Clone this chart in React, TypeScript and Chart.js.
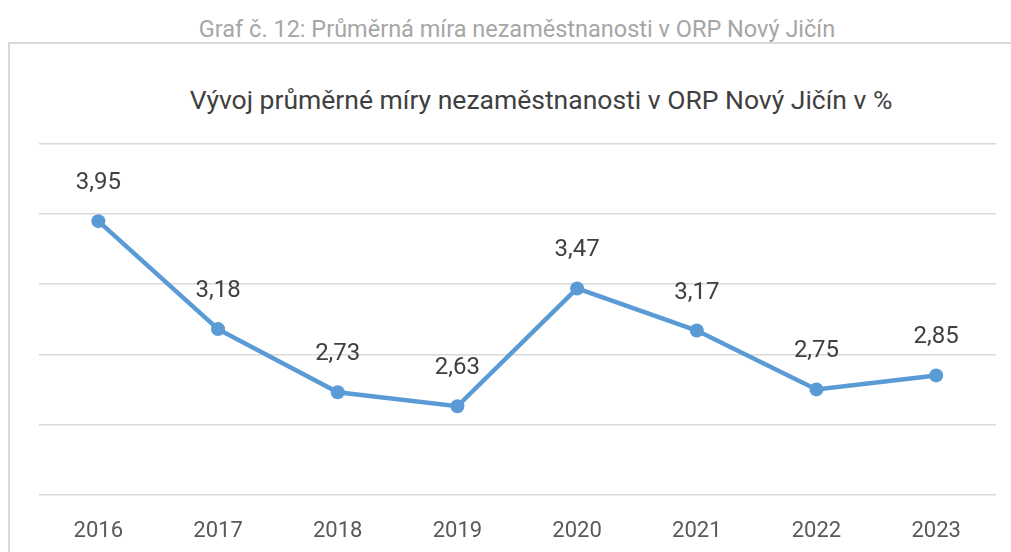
import React, { useEffect, useRef } from "react";
import { Chart, registerables } from "chart.js";

Chart.register(...registerables);

const caption = "Graf č. 12: Průměrná míra nezaměstnanosti v ORP Nový Jičín";
const chartTitle = "Vývoj průměrné míry nezaměstnanosti v ORP Nový Jičín v %";
const years = ["2016", "2017", "2018", "2019", "2020", "2021", "2022", "2023"];
const rates = [3.95, 3.18, 2.73, 2.63, 3.47, 3.17, 2.75, 2.85];
const yMin = 2;
const yMax = 4.5;
const yStep = 0.5;

const FONT = "Roboto, 'Noto Sans', sans-serif";

const valueLabels = {
  id: "valueLabels",
  afterDatasetsDraw(chart: any) {
    const ctx = chart.ctx;
    const meta = chart.getDatasetMeta(0);
    const data = chart.data.datasets[0].data as number[];
    ctx.save();
    ctx.font = `24px ${FONT}`;
    ctx.fillStyle = "#404040";
    ctx.textAlign = "center";
    ctx.textBaseline = "middle";
    meta.data.forEach((pt: any, i: number) => {
      const txt = data[i].toFixed(2).replace(".", ",");
      ctx.fillText(txt, pt.x, pt.y - 38);
    });
    ctx.restore();
  },
};

export default function App() {
  const ref = useRef<HTMLCanvasElement>(null);
  useEffect(() => {
    if (!ref.current) return;
    const chart = new Chart(ref.current, {
      type: "line",
      data: {
        labels: years,
        datasets: [
          {
            data: rates,
            borderColor: "#5B9BD5",
            backgroundColor: "#5B9BD5",
            borderWidth: 4.5,
            pointRadius: 7,
            pointBorderWidth: 0,
            pointBackgroundColor: "#5B9BD5",
            tension: 0,
          },
        ],
      },
      options: {
        animation: false,
        responsive: false,
        maintainAspectRatio: false,
        layout: { padding: { left: 28.5, right: 15, top: 100, bottom: 0 } },
        plugins: {
          legend: { display: false },
          title: { display: false },
          tooltip: { enabled: false },
        },
        scales: {
          x: {
            offset: true,
            grid: { display: false },
            border: { display: false },
            ticks: {
              padding: 15.5,
              color: "#595959",
              font: { family: FONT, size: 22 },
            },
          },
          y: {
            min: yMin,
            max: yMax,
            ticks: { stepSize: yStep, display: false },
            border: { display: false },
            grid: { color: "#d9d9d9", lineWidth: 1.5, drawTicks: false },
          },
        },
      },
      plugins: [valueLabels],
    });
    return () => chart.destroy();
  }, []);

  return (
    <div
      style={{
        position: "fixed",
        left: 0,
        top: 0,
        width: 1011,
        height: 552,
        overflow: "hidden",
        background: "#fff",
        fontFamily: FONT,
      }}
    >
      <div
        style={{
          position: "absolute",
          left: 0,
          top: 17.5,
          width: 1034,
          textAlign: "center",
          fontSize: 23.5,
          lineHeight: "23.5px",
          color: "#a6a6a6",
          whiteSpace: "nowrap",
        }}
      >
        {caption}
      </div>
      <div
        style={{
          position: "absolute",
          left: 8,
          top: 42,
          width: 1100,
          height: 600,
          borderLeft: "2px solid #d9d9d9",
          borderTop: "2px solid #d9d9d9",
        }}
      />
      <div
        style={{
          position: "absolute",
          left: 0,
          top: 87,
          width: 1082,
          textAlign: "center",
          fontSize: 26.5,
          lineHeight: "26.5px",
          color: "#404040",
          whiteSpace: "nowrap",
        }}
      >
        {chartTitle}
      </div>
      <canvas
        ref={ref}
        width={1001}
        height={516}
        style={{ position: "absolute", left: 10, top: 44, width: 1001, height: 516 }}
      />
    </div>
  );
}
